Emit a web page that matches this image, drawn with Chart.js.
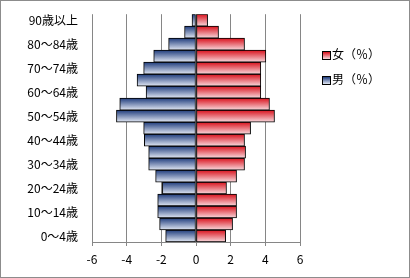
<!DOCTYPE html>
<html lang="ja">
<head>
    <meta charset="UTF-8">
    <title>人口ピラミッド</title>
    <style>
        body {
            margin: 0;
            background: #fff;
            font-family: "Noto Sans CJK JP", sans-serif;
        }
        .frame {
            position: relative;
            width: 410px;
            height: 278px;
            box-sizing: border-box;
            border: 1px solid #8c8c8c;
        }
        .frame canvas {
            display: block;
        }
        .legend {
            position: absolute;
            left: 321px;
            top: 45px;
            font-size: 12px;
            color: #000;
        }
        .legend div {
            height: 25px;
            line-height: 16px;
            white-space: nowrap;
        }
        .legend span.box {
            display: inline-block;
            width: 7px;
            height: 7px;
            border: 1px solid #000;
            margin-right: 1px;
            vertical-align: -1px;
        }
    </style>
</head>
<body>
    <div class="frame">
        <canvas id="myChart" width="408" height="276"></canvas>
        <div class="legend">
            <div><span class="box" style="background: linear-gradient(#d9111c, #f8dade);"></span>女（％）</div>
            <div><span class="box" style="background: linear-gradient(#1f3c7c, #e2e8f4);"></span>男（％）</div>
        </div>
    </div>

    <script src="https://cdn.jsdelivr.net/npm/chart.js@4.4.1/dist/chart.umd.min.js"></script>
    <script>
        // 年齢階級（下から上へ）
        const ageGroups = ['0～4歳', '5～9歳', '10～14歳', '15～19歳', '20～24歳', '25～29歳', '30～34歳',
            '35～39歳', '40～44歳', '45～49歳', '50～54歳', '55～59歳', '60～64歳', '65～69歳',
            '70～74歳', '75～79歳', '80～84歳', '85～89歳', '90歳以上'];
        // 男（％）は左側なのでマイナス
        const maleValues = [-1.75, -2.10, -2.21, -2.21, -1.94, -2.33, -2.73, -2.73, -2.98, -3.02,
            -4.59, -4.40, -2.88, -3.40, -3.02, -2.44, -1.58, -0.66, -0.23];
        const femaleValues = [1.71, 2.11, 2.34, 2.34, 1.76, 2.34, 2.80, 2.86, 2.80, 3.15,
            4.53, 4.24, 3.74, 3.74, 3.74, 4.03, 2.80, 1.30, 0.67];
        const xTicks = [-6, -4, -2, 0, 2, 4, 6];

        // バーごとの縦グラデーション
        function barGradient(context, top, bottom) {
            const chart = context.chart;
            const y = chart.scales && chart.scales.y;
            if (!y || !chart.chartArea || context.dataIndex === undefined) {
                return top;
            }
            const center = y.getPixelForValue(context.dataIndex);
            const half = (chart.chartArea.bottom - chart.chartArea.top) / ageGroups.length / 2;
            const g = chart.ctx.createLinearGradient(0, center - half, 0, center + half);
            g.addColorStop(0, top);
            g.addColorStop(1, bottom);
            return g;
        }

        const ctx = document.getElementById('myChart');

        new Chart(ctx, {
            type: 'bar',
            data: {
                labels: ageGroups,
                datasets: [{
                    label: '女（％）',
                    data: femaleValues,
                    backgroundColor: c => barGradient(c, '#d9111c', '#f8dade'),
                    borderColor: '#000',
                    borderWidth: 1,
                    borderSkipped: false,
                    barPercentage: 1,
                    categoryPercentage: 1
                }, {
                    label: '男（％）',
                    data: maleValues,
                    backgroundColor: c => barGradient(c, '#1f3c7c', '#e2e8f4'),
                    borderColor: '#000',
                    borderWidth: 1,
                    borderSkipped: false,
                    barPercentage: 1,
                    categoryPercentage: 1
                }]
            },
            options: {
                indexAxis: 'y',
                responsive: false,
                animation: false,
                layout: {
                    padding: { top: 12, right: 109, left: 0, bottom: 0 }
                },
                plugins: {
                    legend: { display: false },
                    tooltip: { enabled: false }
                },
                scales: {
                    x: {
                        stacked: true,
                        min: -6,
                        max: 6,
                        afterBuildTicks: scale => {
                            scale.ticks = xTicks.map(v => ({ value: v }));
                        },
                        afterFit: scale => { scale.height = 35; },
                        grid: {
                            color: '#868686',
                            tickColor: '#868686',
                            tickLength: 4
                        },
                        border: { color: '#868686' },
                        ticks: {
                            color: '#000',
                            padding: 6,
                            font: { family: '"Noto Sans CJK JP", sans-serif', size: 12 }
                        }
                    },
                    y: {
                        stacked: true,
                        reverse: true,
                        afterFit: scale => { scale.width = 91; },
                        grid: { display: false },
                        border: { display: false },
                        ticks: {
                            autoSkip: false,
                            color: '#000',
                            padding: 6,
                            font: { family: '"Noto Sans CJK JP", sans-serif', size: 12 },
                            callback: function(value, index) {
                                return index % 2 === 0 ? ageGroups[index] : '';
                            }
                        }
                    }
                }
            }
        });
    </script>
</body>
</html>
